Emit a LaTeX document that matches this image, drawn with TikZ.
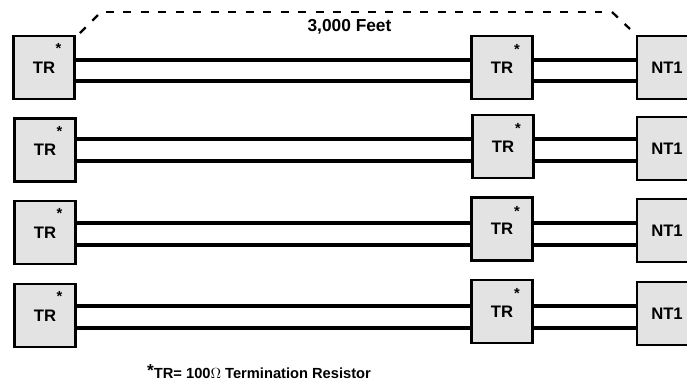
\documentclass[tikz,border=0pt]{standalone}
\usepackage{fontspec}
\setmainfont{Liberation Sans}
\usepackage{xcolor}
\usepackage{tikz}
\usetikzlibrary{calc, positioning}

\tikzset{
    termbox/.style={draw, line width=1.8pt, fill=black!11, minimum width=46pt, minimum height=47pt, inner sep=0pt, font=\bfseries\fontsize{12.5}{14}\selectfont},
    starmark/.style={inner sep=0pt, font=\bfseries\fontsize{11}{13}\selectfont},
    wire/.style={line width=2.5pt},
    spanline/.style={line width=1.7pt, dash pattern=on 6pt off 7.1pt}
}

\begin{document}
\begin{tikzpicture}[x=0.75pt, y=-0.75pt]
    \useasboundingbox (0,0) rectangle (687,383);
    \clip (0,0) rectangle (687,383);

    % Rows: x of left and middle box, y of left box, middle box, NT1 box, then the two wires
    \foreach \r/\xl/\xm/\yl/\ym/\yn/\wa/\wb in {1/44/502/67.5/67.5/67.5/60/81, 2/45/503/150/146.5/148.5/139/161, 3/45/502/232.5/229/230.5/223/245, 4/45/502/315.5/311.5/313.5/306/328} {
        \node[termbox] (left\r) at (\xl,\yl) {TR};
        \node[termbox] (mid\r) at (\xm,\ym) {TR};
        \node[termbox, minimum width=45pt] (nt\r) at (667,\yn) {NT1};
        \node[starmark, below=2pt] (starl\r) at ($(left\r.north)+(14.5,6)$) {*};
        \node[starmark, below=2pt] (starm\r) at ($(mid\r.north)+(15,7)$) {*};
        \draw[wire] (left\r.east |- 0,\wa) -- (mid\r.west |- 0,\wa);
        \draw[wire] (left\r.east |- 0,\wb) -- (mid\r.west |- 0,\wb);
        \draw[wire] (mid\r.east |- 0,\wa) -- (nt\r.west |- 0,\wa);
        \draw[wire] (mid\r.east |- 0,\wb) -- (nt\r.west |- 0,\wb);
    }

    % Span marker
    \draw[spanline] (80,33) -- (98,15);
    \draw[spanline] (106,12) -- (602,12);
    \draw[spanline] (612,12) -- (630,29);
    \node[font=\bfseries\fontsize{13}{15}\selectfont] (span) at (349.5,27) {3,000 Feet};

    % Footnote
    \node[font=\bfseries\fontsize{11}{13}\selectfont] (note) at (259,371.5) {\raisebox{1pt}{\fontsize{13}{15}\selectfont *}TR= 100$\Omega$ Termination Resistor};
\end{tikzpicture}
\end{document}
